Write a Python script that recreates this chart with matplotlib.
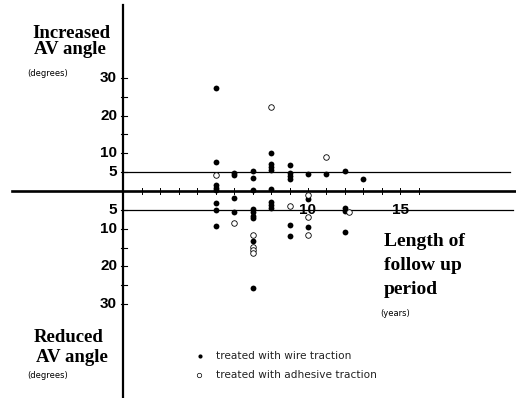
import numpy as np
import matplotlib.pyplot as plt

# change in AV angle (degrees) against length of follow up (years)
# positive = increased, negative = reduced
wire_years = [5, 5, 5, 5, 5, 5, 5, 5,
              6, 6, 6, 6,
              7, 7, 7, 7, 7, 7, 7, 7, 7,
              8, 8, 8, 8, 8, 8, 8, 8,
              9, 9, 9, 9, 9, 9,
              10, 10, 10,
              11,
              12, 12, 12, 12,
              13]
wire_angle = [27.4, 7.8, 1.6, 0.8, 0.3, -3.3, -5.0, -9.3,
              4.9, 4.2, -1.9, -5.6,
              5.4, 3.4, 0.3, -4.9, -5.6, -6.5, -7.2, -13.3, -25.6,
              10.0, 7.2, 6.4, 5.6, 0.4, -2.8, -3.7, -4.6,
              6.9, 4.8, 4.0, 3.1, -9.1, -11.9,
              4.5, -2.1, -9.6,
              4.5,
              5.2, -4.5, -5.2, -10.8,
              3.1]

adhesive_years = [5, 6, 7, 7, 7, 7, 8, 9, 10, 10, 10, 11, 12.2]
adhesive_angle = [4.2, -8.4, -11.7, -14.8, -15.7, -16.4, 22.2, -4.1,
                  -1.1, -6.8, -11.6, 9.1, -5.7]

up_ticks = [5, 10, 20, 30]
down_ticks = [5, 10, 20, 30]
x_labels = [10, 15]

W, H = 516, 398
X0, SX = 123.5, 18.45
Y0, SY = 191.0, 3.77

fig = plt.figure(figsize=(W / 100, H / 100), dpi=100)
ax = fig.add_axes([0, 0, 1, 1])
ax.set_xlim(-X0 / SX, (W - X0) / SX)
ax.set_ylim(-(H - Y0) / SY, Y0 / SY)
ax.axis('off')

serif = dict(family='Liberation Serif', weight='bold', color='black')
sans_b = dict(family='Liberation Sans', weight='bold', color='black')
small = dict(family='DejaVu Sans', color='black')


def fx(px):
    return px / W


def fy(py):
    return 1 - py / H


# axes lines
ylo, yhi = ax.get_ylim()
ax.plot([0, 0], [ylo, (Y0 - 5) / SY], color='black', lw=1.6)
ax.plot([(12 - X0) / SX, (W - X0) / SX], [0, 0], color='black', lw=1.9)
ax.plot([0, (510 - X0) / SX], [5, 5], color='black', lw=0.9)
ax.plot([0, (513 - X0) / SX], [-5, -5], color='black', lw=0.9)

# tick marks
for yr in range(1, 17):
    ax.plot([yr, yr], [-0.7, 0.7], color='black', lw=0.7)
for v in range(5, 35, 5):
    for s in (1, -1):
        ax.plot([-0.12, 0.2], [s * v, s * v], color='black', lw=0.8)

for v in up_ticks:
    ax.text(-0.35, v, str(v), ha='right', va='center', fontsize=11, **sans_b)
for v in down_ticks:
    ax.text(-0.35, -v, str(v), ha='right', va='center', fontsize=11, **sans_b)
for v in x_labels:
    ax.text(v, -5, str(v), ha='center', va='center', fontsize=11, **sans_b)

# data
ax.plot(wire_years, wire_angle, 'o', color='black', ms=4.2, mew=0)
ax.plot(adhesive_years, adhesive_angle, 'o', mfc='white', mec='black',
        ms=4.0, mew=0.6)

# titles
ax.text(fx(32), fy(33), 'Increased', ha='left', va='center', fontsize=13.5,
        transform=ax.transAxes, **serif)
ax.text(fx(34), fy(50), 'AV angle', ha='left', va='center', fontsize=13.5,
        transform=ax.transAxes, **serif)
ax.text(fx(27), fy(73), '(degrees)', ha='left', va='center', fontsize=6,
        transform=ax.transAxes, **small)

ax.text(fx(34), fy(337), 'Reduced', ha='left', va='center', fontsize=13.5,
        transform=ax.transAxes, **serif)
ax.text(fx(36), fy(357), 'AV angle', ha='left', va='center', fontsize=13.5,
        transform=ax.transAxes, **serif)
ax.text(fx(27), fy(376), '(degrees)', ha='left', va='center', fontsize=6,
        transform=ax.transAxes, **small)

for i, line in enumerate(['Length of', 'follow up', 'period']):
    ax.text(fx(384), fy(242 + 24 * i), line, ha='left', va='center',
            fontsize=14, transform=ax.transAxes, **serif)
ax.text(fx(380), fy(314), '(years)', ha='left', va='center', fontsize=6,
        transform=ax.transAxes, **small)

# key
ax.plot([fx(200)], [fy(356)], 'o', color='black', ms=3.0, mew=0,
        transform=ax.transAxes)
ax.text(fx(216), fy(356), 'treated with wire traction', ha='left',
        va='center', fontsize=7.6, color='#222222', family='DejaVu Sans',
        transform=ax.transAxes)
ax.plot([fx(199)], [fy(375)], 'o', mfc='white', mec='black', ms=3.2,
        mew=0.5, transform=ax.transAxes)
ax.text(fx(216), fy(375), 'treated with adhesive traction', ha='left',
        va='center', fontsize=7.6, color='#222222', family='DejaVu Sans',
        transform=ax.transAxes)

fig.savefig('out.png', dpi=100)
